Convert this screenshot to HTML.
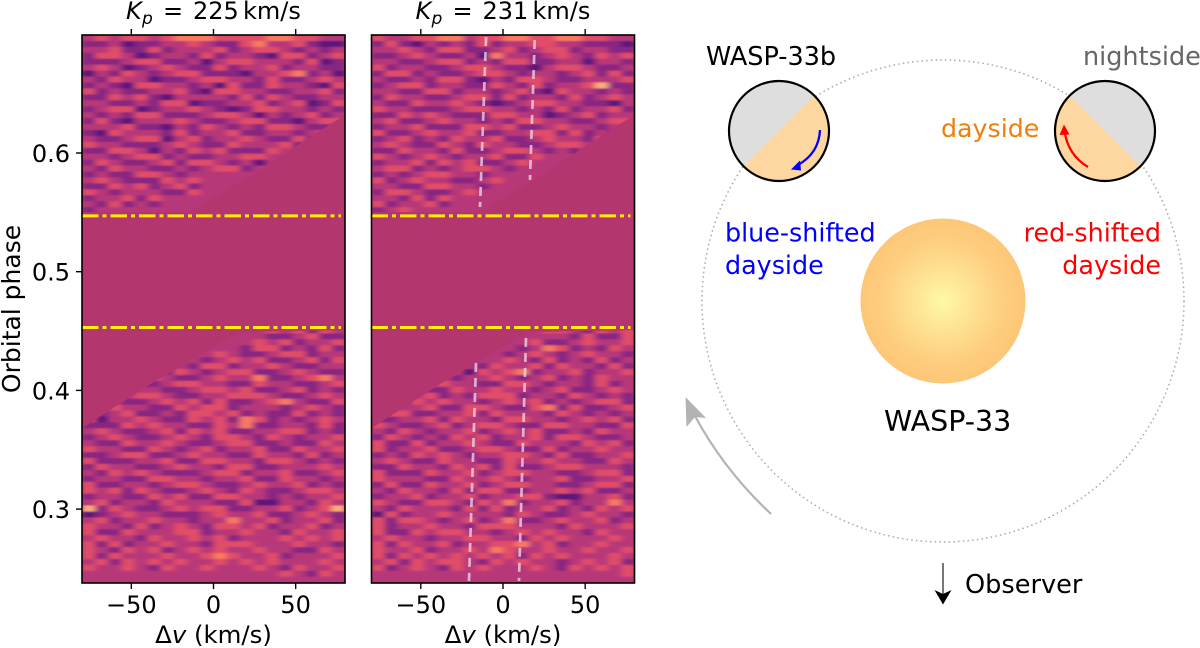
<!DOCTYPE html>
<html lang="en">
<head>
<meta charset="utf-8">
<title>WASP-33b orbital phase maps and orbit diagram</title>
<style>
html,body{margin:0;padding:0;background:#fff;}
svg{display:block;font-family:"DejaVu Sans","Liberation Sans",sans-serif;}
</style>
</head>
<body>
<svg id="fig" width="1200" height="648" viewBox="0 0 1200 648" xmlns="http://www.w3.org/2000/svg">
<defs>
<filter id="streak" x="-5%" y="-5%" width="110%" height="110%"><feGaussianBlur stdDeviation="3.5 0.7"/></filter>
<clipPath id="clip-left"><rect x="82" y="35" width="263" height="548"/></clipPath>
<clipPath id="clip-right"><rect x="371.5" y="35" width="263" height="548"/></clipPath>
<radialGradient id="star-grad" cx="50%" cy="50%" r="50%">
<stop offset="0%" stop-color="#fdf9a6"/>
<stop offset="35%" stop-color="#fee394"/>
<stop offset="75%" stop-color="#fecd7e"/>
<stop offset="100%" stop-color="#fdc677"/>
</radialGradient>
<clipPath id="planet-left-clip"><circle cx="779" cy="131" r="49.5"/></clipPath>
<clipPath id="planet-right-clip"><circle cx="1105" cy="131" r="49.5"/></clipPath>
</defs>

<g id="panels"></g>

<g>
<circle cx="943" cy="301" r="241" fill="none" stroke="#a8a8a8" stroke-width="1.5" stroke-dasharray="1.5 3.2"/>
<circle cx="943" cy="301" r="82.5" fill="url(#star-grad)"/>
<text x="884" y="431" font-size="28.5" fill="#000">WASP-33</text>

<g>
<circle cx="779" cy="131" r="49.5" fill="#dedede"/>
<polygon clip-path="url(#planet-left-clip)" points="813,97 745,165 745,190 840,190 840,97" fill="#fdd6a0"/>
<circle cx="779" cy="131" r="50" fill="none" stroke="#000" stroke-width="2.2"/>
<path d="M820 130 Q819 153 798 165" fill="none" stroke="#0000ff" stroke-width="2.3"/>
<polygon points="791,169.5 800,160.5 801,170.5" fill="#0000ff"/>
</g>

<g>
<circle cx="1105" cy="131" r="49.5" fill="#dedede"/>
<polygon clip-path="url(#planet-right-clip)" points="1071,97 1139,165 1139,190 1040,190 1040,97" fill="#fdd6a0"/>
<circle cx="1105" cy="131" r="50" fill="none" stroke="#000" stroke-width="2.2"/>
<path d="M1088 167 Q1068 155 1064.5 131" fill="none" stroke="#ff0000" stroke-width="2.3"/>
<polygon points="1064,124.5 1059.5,135 1069.5,134.5" fill="#ff0000"/>
</g>

<text x="706" y="65" font-size="25.5" fill="#000">WASP-33b</text>
<text x="1083" y="65" font-size="25.5" fill="#666666">nightside</text>
<text x="941" y="137" font-size="25.3" fill="#ef7f0a">dayside</text>
<text x="725" y="241.5" font-size="25.4" fill="#0000ff">blue-shifted</text>
<text x="725" y="274" font-size="25.4" fill="#0000ff">dayside</text>
<text x="1161" y="241.5" font-size="25.4" fill="#ff0000" text-anchor="end">red-shifted</text>
<text x="1161" y="274" font-size="25.4" fill="#ff0000" text-anchor="end">dayside</text>

<path d="M771 514 Q724 470 695 416" fill="none" stroke="#b3b3b3" stroke-width="2.2"/>
<polygon points="685.5,397 706,418 695,417 686.5,427" fill="#b3b3b3"/>
<line x1="943" y1="563" x2="943" y2="594" stroke="#555" stroke-width="1.6"/>
<polygon points="943,604.5 934.5,590 943,594 951.5,590" fill="#000"/>
<text x="965" y="593" font-size="25.6" fill="#000">Observer</text>
</g>

<text transform="translate(20,309) rotate(-90)" font-size="25" text-anchor="middle" fill="#000">Orbital phase</text>
</svg>

<script>
// Axis tick labels
var xTicks = [-50, 0, 50];
var yTicks = [0.3, 0.4, 0.5, 0.6];
var kpValues = [225, 231];

// Phases of the eclipse boundary lines
var eclipsePhases = [0.547, 0.453];

// Heatmap bins: velocity bin width, phase bin height, first phase of each block
var cellV = 8;
var cellPhase = 0.005;
var topStartPhase = 0.6994;
var bottomStartPhase = 0.453;
var binCount = 20;
var neutralValue = '4';

// Masked region edges (km/s, phase)
var maskLowerV = [-80, -78.8, -39.2, -10, 0.9, 15.5, 80];
var maskLowerPhase = [0.3680, 0.3692, 0.4046, 0.4282, 0.4383, 0.4492, 0.4509];
var maskUpperV = [80, 60.5, 28.3, -5.2, -16.1, -80];
var maskUpperPhase = [0.6320, 0.6152, 0.5857, 0.5579, 0.5503, 0.5503];

// Planet-trail guides in the 231 km/s panel
var trailStartV = [-10.3, 19.3, -16.4, 14.0];
var trailStartPhase = [0.6977, 0.6952, 0.4231, 0.4442];
var trailEndV = [-14.0, 16.4, -20.7, 9.7];
var trailEndPhase = [0.5545, 0.5773, 0.2394, 0.2394];

// Correlation map values 0-9, one digit per velocity bin.
// Upper-block rows run from the left edge; lower-block rows end at the right edge.
// Bins hidden by the mask are left out and filled with the neutral value.
var top225 = [
"45455456665555665544",
"33423344543356445322",
"44533534445345543434",
"35542344353443255345",
"33345533424554443523",
"45423454335344534433",
"24354345533324456342",
"43544233455443533454",
"34325544342533544325",
"53433445325544334453",
"33545324444353543344",
"44334355233445345235",
"34552344543235544343",
"43435533345542434534",
"35324445433455332455",
"44453324354343554334",
"32544435344533443452",
"43345524534454335344",
"54433345433544453",
"33554243545333545",
"44345534334455",
"35433453554342",
"43544334345534",
"343355434",
"4543335454",
"3354534534",
"5434443354",
"344535",
"435343",
"3"
];
var bottom225 = [
"545354",
"334533",
"45453445",
"35534353",
"5433455344",
"34545334535",
"355344543344",
"35434553345433",
"543345446334564",
"3345544335443345",
"534433455453345343",
"3345543344555433454",
"53433454535334564335",
"34544335455344434543",
"53453343554534335343",
"52445433545365343454",
"33354544335463344353",
"45433453545334455343",
"34543345435543543445",
"43354454334553343354",
"54433543453445335445",
"33455334544335443534",
"53334453355443554343",
"35443345443553344454",
"43545433345534453345",
"34433554434453354434",
"53344345543345445343",
"54535433454354334554",
"34433545335544343445",
"45344354443352244354",
"73543345455334453457",
"23454433345445334543",
"45344544344644534453",
"54435345435545344534",
"53354445534454435445",
"45443544545344454545",
"53534454435554445443",
"54354534545445443354",
"53544454456544534445",
"45354545445454544454",
"54454354454445435445",
"54354",
""
];
var top231 = [
"54455664556655665544",
"35324343534455443332",
"44543553345345534433",
"33454334264434543545",
"44334553435533442443",
"53443345543324554334",
"35534334554344345353",
"43343553243554334445",
"34553443354353445733",
"44335534434532544343",
"35443345535344353454",
"43354454323455443324",
"54433345544343534453",
"33545433355442345344",
"45334544343554433455",
"34453335545334544343",
"53345445334455353435",
"34534354453345443544",
"45433543544334554",
"33544353345543435",
"5434543445335",
"3445354533454",
"45534345543",
"3434554434",
"5345443345",
"4433554434",
"35543345",
"443535",
"534453",
"3454"
];
var bottom231 = [
"5543545",
"435335",
"53345445",
"346534354",
"3454345443",
"5435343534",
"354453544353",
"2545634453445",
"34454345343544",
"544335543443534",
"543354454434533454",
"34445343555344354343",
"63354544345453434553",
"34445335543356353345",
"45533445354443543434",
"33445354435544345453",
"54334534554335544335",
"43543445345453343544",
"35434354534453554334",
"53353445433544435453",
"53445334554335344544",
"34354543445543533445",
"45433544335445443354",
"33544354535334554443",
"53335445345544334553",
"54443354454344533445",
"35335445345544334553",
"43544353553344545334",
"34453445344553224453",
"54335543546344534464",
"43544435353445343545",
"25344544443543345443",
"53554345346334544534",
"53445443555444354445",
"53354554434545443544",
"45443445544354544454",
"53544534455645344544",
"54453445465445445445",
"53545454545354544454",
"45354554354544345453",
"53454354544454354545",
"5",
""
];

var SVG_NS = 'http://www.w3.org/2000/svg';
var magmaStops = ['#000004','#140e36','#3b0f70','#641a80','#8c2981','#b73779','#de4968','#f7705c','#fe9f6d','#fecf92','#fcfdbf'];
var panelWidth = 263, panelTop = 35, panelBottom = 583;

function hexToRgb(h){return [parseInt(h.substr(1,2),16),parseInt(h.substr(3,2),16),parseInt(h.substr(5,2),16)];}
function colorFor(value){
  var t = Math.min(1,(value+0.5)/9)*10, i = Math.min(9,Math.floor(t)), f = t-i;
  var a = hexToRgb(magmaStops[i]), b = hexToRgb(magmaStops[i+1]);
  return 'rgb('+Math.round(a[0]+(b[0]-a[0])*f)+','+Math.round(a[1]+(b[1]-a[1])*f)+','+Math.round(a[2]+(b[2]-a[2])*f)+')';
}
function yScale(phase){return 271.7+(0.5-phase)*1187;}
function make(tag,attrs,parent){
  var el=document.createElementNS(SVG_NS,tag);
  for(var k in attrs){el.setAttribute(k,attrs[k]);}
  parent.appendChild(el);
  return el;
}

function drawCells(group,rows,startPhase,xScale,alignRight){
  rows.forEach(function(raw,r){
    var row=alignRight?raw.padStart(binCount,neutralValue):raw.padEnd(binCount,neutralValue);
    for(var c=0;c<row.length;c++){
      var v0=-80+c*cellV;
      var p0=startPhase-r*cellPhase;
      var cell=make('rect',{x:xScale(v0),y:yScale(p0),width:xScale(v0+cellV)-xScale(v0)+0.4,height:yScale(p0-cellPhase)-yScale(p0)+0.4,fill:colorFor(+row[c])},group);
      
      
    }
  });
}

function drawPanel(left,index,topRows,bottomRows){
  var xScale=function(v){return left+(v+80)/160*panelWidth;};
  var root=document.getElementById('panels');
  var panel=make('g',{},root);
  
  

  var clipped=make('g',{'clip-path':index===0?'url(#clip-left)':'url(#clip-right)'},panel);
  var bg=make('rect',{x:left,y:panelTop,width:panelWidth,height:panelBottom-panelTop,fill:'#b3366f'},clipped);
  
  

  var cells=make('g',{filter:'url(#streak)'},clipped);
  
  
  drawCells(cells,topRows,topStartPhase,xScale,false);
  drawCells(cells,bottomRows,bottomStartPhase,xScale,true);

  var pts=[];
  maskLowerV.forEach(function(v,i){pts.push(xScale(v)+','+yScale(maskLowerPhase[i]));});
  maskUpperV.forEach(function(v,i){pts.push(xScale(v)+','+yScale(maskUpperPhase[i]));});
  var mask=make('polygon',{points:pts.join(' '),fill:'#b3366f'},clipped);
  
  

  eclipsePhases.forEach(function(p){
    var line=make('line',{x1:left,x2:left+259,y1:yScale(p),y2:yScale(p),stroke:'#ffee00','stroke-width':3,'stroke-dasharray':'16.5 4 4 4'},clipped);
    
    
  });

  if(index===1){
    trailStartV.forEach(function(v,i){
      var trail=make('line',{x1:xScale(v),y1:yScale(trailStartPhase[i]),x2:xScale(trailEndV[i]),y2:yScale(trailEndPhase[i]),stroke:'#f4e6f2','stroke-opacity':0.7,'stroke-width':2.7,'stroke-dasharray':'9 6'},clipped);
      
      
    });
  }

  var frame=make('rect',{x:left,y:panelTop,width:panelWidth,height:panelBottom-panelTop,fill:'none',stroke:'#000','stroke-width':1.6},panel);
  
  

  xTicks.forEach(function(t){
    var x=xScale(t);
    var tickB=make('line',{x1:x,x2:x,y1:panelBottom,y2:panelBottom+6,stroke:'#000','stroke-width':1.4},panel);
    
    
    var tickT=make('line',{x1:x,x2:x,y1:panelTop,y2:panelTop-6,stroke:'#000','stroke-width':1.4},panel);
    
    
    var lab=make('text',{x:x,y:613,'font-size':24,'text-anchor':'middle',fill:'#000'},panel);
    
    
    lab.textContent=(t<0?'\u2212':'')+Math.abs(t);
  });

  if(index===0){
    yTicks.forEach(function(t){
      var y=yScale(t);
      var tick=make('line',{x1:left-6,x2:left,y1:y,y2:y,stroke:'#000','stroke-width':1.4},panel);
      
      
      var lab=make('text',{x:70,y:y+9,'font-size':24,'text-anchor':'end',fill:'#000'},panel);
      
      
      lab.textContent=t.toFixed(1);
    });
  }

  var xTitle=make('text',{x:left+131.5,y:643,'font-size':24.4,'text-anchor':'middle',fill:'#000'},panel);
  
  
  var delta=make('tspan',{},xTitle);
  delta.textContent='\u0394';
  var vee=make('tspan',{'font-style':'italic'},xTitle);
  vee.textContent='v';
  var unit=make('tspan',{},xTitle);
  unit.textContent=' (km/s)';

  var title=make('text',{y:19,'font-size':24,fill:'#000'},panel);
  
  
  var kSym=make('tspan',{x:left+44,'font-style':'italic'},title);
  kSym.textContent='K';
  var pSym=make('tspan',{x:left+60,dy:5,'font-style':'italic','font-size':17},title);
  pSym.textContent='p';
  var eq=make('tspan',{x:left+81,dy:-5},title);
  eq.textContent='=';
  var num=make('tspan',{x:left+111},title);
  num.textContent=kpValues[index];
  var kms=make('tspan',{x:left+161},title);
  kms.textContent='km/s';
}

drawPanel(82,0,top225,bottom225);
drawPanel(371.5,1,top231,bottom231);
</script>
</body>
</html>
